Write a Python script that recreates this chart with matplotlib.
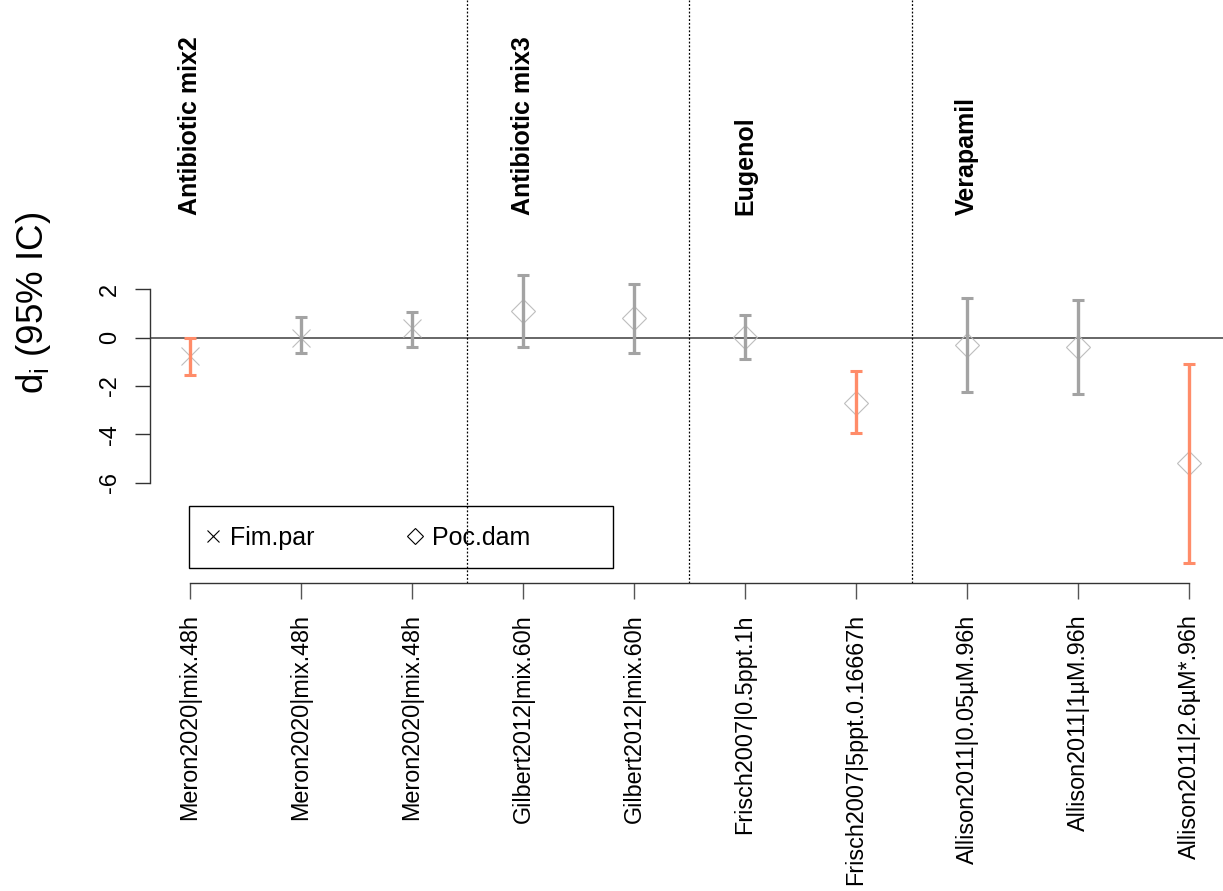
import numpy as np
import matplotlib.pyplot as plt
from matplotlib.lines import Line2D
from matplotlib.patches import Rectangle

plt.rcParams['font.family'] = ['Liberation Sans', 'DejaVu Sans']
plt.rcParams['mathtext.default'] = 'regular'

# effect sizes
studies = ['Meron2020|mix.48h', 'Meron2020|mix.48h', 'Meron2020|mix.48h',
           'Gilbert2012|mix.60h', 'Gilbert2012|mix.60h',
           'Frisch2007|0.5ppt.1h', 'Frisch2007|5ppt.0.16667h',
           'Allison2011|0.05µM.96h', 'Allison2011|1µM.96h', 'Allison2011|2.6µM*.96h']
species = ['Fim.par'] * 3 + ['Poc.dam'] * 7
d_i = [-0.78, 0.0, 0.39, 1.1, 0.8, 0.02, -2.69, -0.3, -0.4, -5.19]
ci_low = [-1.54, -0.62, -0.4, -0.4, -0.65, -0.9, -3.95, -2.26, -2.34, -9.31]
ci_high = [-0.03, 0.84, 1.07, 2.59, 2.2, 0.94, -1.4, 1.65, 1.57, -1.1]
significant = [True, False, False, False, False, False, True, False, False, True]

groups = ['Antibiotic mix2', 'Antibiotic mix3', 'Eugenol', 'Verapamil']
group_start = [1, 4, 6, 8]

W, H = 1223, 891
fig = plt.figure(figsize=(W / 100, H / 100), dpi=100)
ax = fig.add_axes([150 / W, 1 - 583 / H, (W - 150) / W, 583 / H])

x = np.arange(1, len(studies) + 1)
d_i = np.array(d_i)
lo = d_i - np.array(ci_low)
hi = np.array(ci_high) - d_i

ax.axhline(0, color='#4d4d4d', lw=1.2, zorder=1)
for b in [3.5, 5.5, 7.5]:
    ax.axvline(b, color='black', ls=(0, (1.5, 1.5)), lw=0.9, zorder=1)

markers = {'Fim.par': 'x', 'Poc.dam': 'D'}
msize = {'Fim.par': 13.5, 'Poc.dam': 12.5}
for xi, yi, sp in zip(x, d_i, species):
    ax.plot(xi, yi, marker=markers[sp], ms=msize[sp], mfc='none', mec='#bebebe',
            mew=0.8, ls='none', zorder=2)

for xi, yi, l, h, sig in zip(x, d_i, lo, hi, significant):
    col = '#ff8c69' if sig else '#a3a3a3'
    ax.errorbar(xi, yi, yerr=[[l], [h]], fmt='none', ecolor=col, elinewidth=2.4,
                capsize=4, capthick=2.2, zorder=3)

for g, gx in zip(groups, group_start):
    ax.text(gx, 5.07, g, rotation=90, ha='center', va='bottom', fontsize=18,
            fontweight='bold')

ax.set_xlim(0.64, 10.306)
ax.set_ylim(-10.14, 13.95)

for s in ['top', 'right']:
    ax.spines[s].set_visible(False)
ax.spines['left'].set_bounds(-6, 2)
ax.spines['bottom'].set_bounds(1, 10)
for s in ['left', 'bottom']:
    ax.spines[s].set_color('#333333')
    ax.spines[s].set_linewidth(1.0)

ax.set_xticks(x)
ax.set_xticklabels(studies, rotation=90, fontsize=16.8)
ax.set_yticks([-6, -4, -2, 0, 2])
ax.set_yticklabels(['-6', '-4', '-2', '0', '2'], rotation=90, va='center', fontsize=17)
ax.tick_params(axis='x', length=11.5, width=1.0, color='#555555', pad=11)
ax.tick_params(axis='y', length=11, width=1.0, color='#333333', pad=10)

fig.text(34 / W, 1 - 303 / H, r'$d_i$ (95% IC)', rotation=90, ha='center',
         va='center', fontsize=26.5)

# legend
handles = [Line2D([], [], marker='x', ms=9, mec='black', mew=0.8, ls='none'),
           Line2D([], [], marker='D', ms=8, mfc='none', mec='black', mew=0.8, ls='none')]
ax.legend(handles, ['Fim.par', 'Poc.dam'], ncol=2, frameon=False, fontsize=18,
          loc='center left', bbox_to_anchor=(203 / W, 1 - 538 / H),
          bbox_transform=fig.transFigure, borderpad=0, borderaxespad=0,
          handlelength=0.8, handletextpad=0.28, columnspacing=3.6)
fig.patches.append(Rectangle((189 / W, 1 - 568 / H), 424 / W, 62 / H,
                             transform=fig.transFigure, fill=False,
                             edgecolor='black', lw=1.0))

fig.savefig('out.png', dpi=100)
